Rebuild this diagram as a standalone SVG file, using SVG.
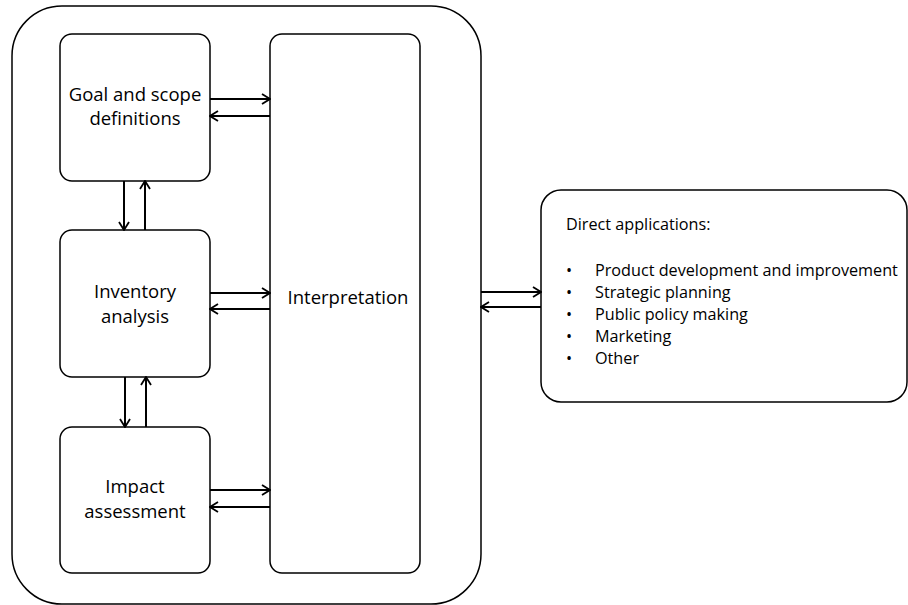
<svg xmlns="http://www.w3.org/2000/svg" width="908" height="605" viewBox="0 0 908 605">
<style>
.box{fill:#fff;stroke:#000;stroke-width:1.5}
.t{font-family:"Open Sans","Liberation Sans",sans-serif;font-size:16.2px;fill:#000}
.b{font-size:18.5px}
.c{text-anchor:middle}
.ln{fill:none;stroke:#000;stroke-width:2;marker-end:url(#ah)}
</style>
<defs>
<marker id="ah" viewBox="0 0 10 12" refX="9" refY="6" markerWidth="10" markerHeight="12" markerUnits="userSpaceOnUse" orient="auto">
<path d="M1,1 L9,6 L1,11" fill="none" stroke="#000" stroke-width="1.8"/>
</marker>
</defs>
<g id="outer"><rect class="box" x="12" y="6" width="469" height="598" rx="50"/></g>
<g id="goal"><rect class="box" x="60" y="34" width="150" height="147" rx="12"/>
<text class="t b c" x="135" y="101">Goal and scope</text><text class="t b c" x="135" y="125">definitions</text></g>
<g id="inventory"><rect class="box" x="60" y="230" width="150" height="147" rx="12"/>
<text class="t b c" x="135" y="298">Inventory</text><text class="t b c" x="135" y="323">analysis</text></g>
<g id="impact"><rect class="box" x="60" y="427" width="150" height="146" rx="12"/>
<text class="t b c" x="135" y="493">Impact</text><text class="t b c" x="135" y="518">assessment</text></g>
<g id="interpretation"><rect class="box" x="270" y="34" width="150" height="539" rx="12"/>
<text class="t b c" x="348" y="304">Interpretation</text></g>
<g id="applications"><rect class="box" x="541" y="190" width="366" height="212" rx="20"/>
<text class="t" x="566" y="230">Direct applications:</text>
<g class="t">
<text x="566" y="276">•</text><text x="595" y="276">Product development and improvement</text>
<text x="566" y="298">•</text><text x="595" y="298">Strategic planning</text>
<text x="566" y="320">•</text><text x="595" y="320">Public policy making</text>
<text x="566" y="342">•</text><text x="595" y="342">Marketing</text>
<text x="566" y="363.5">•</text><text x="595" y="363.5">Other</text>
</g></g>
<g id="connectors">
<path class="ln" d="M210,99 H270"/>
<path class="ln" d="M270,116 H210"/>
<path class="ln" d="M210,293 H270"/>
<path class="ln" d="M270,309 H210"/>
<path class="ln" d="M210,490 H270"/>
<path class="ln" d="M270,507 H210"/>
<path class="ln" d="M124,181 V230"/>
<path class="ln" d="M145,230 V181"/>
<path class="ln" d="M125,377 V427"/>
<path class="ln" d="M146,427 V377"/>
<path class="ln" d="M481,292 H541"/>
<path class="ln" d="M541,307 H481"/>
</g>
</svg>
